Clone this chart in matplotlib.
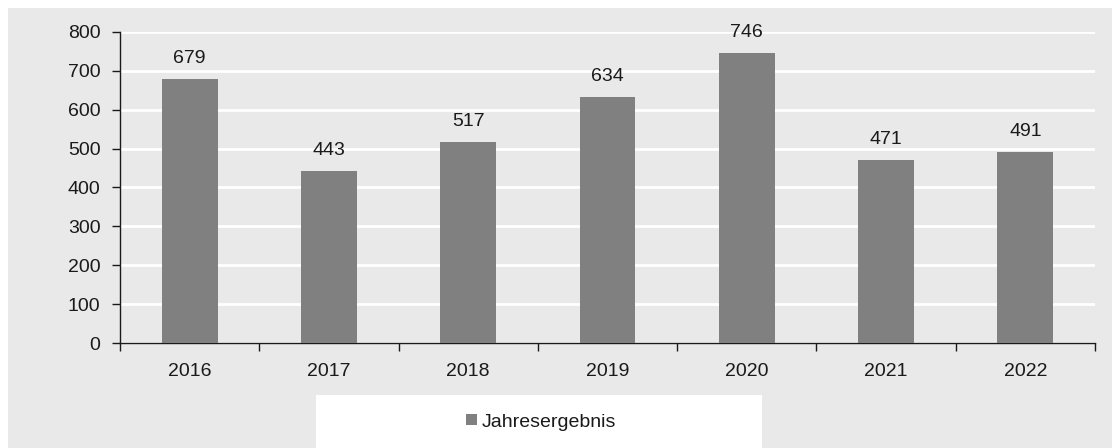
import matplotlib
matplotlib.use("Agg")
import matplotlib.pyplot as plt
from matplotlib.patches import Rectangle

years = ["2016", "2017", "2018", "2019", "2020", "2021", "2022"]
values = [679, 443, 517, 634, 746, 471, 491]
series_name = "Jahresergebnis"
yticks = [0, 100, 200, 300, 400, 500, 600, 700, 800]

plt.rcParams['font.family'] = ['Liberation Sans', 'DejaVu Sans']
W, H = 1112, 448
FS = 14
TXT = "#1a1a1a"
fig = plt.figure(figsize=(W/100, H/100), dpi=100, facecolor="white")
bg = "#e9e9e9"
fig.patches.append(Rectangle((8/W, 0), 1, (H-8)/H, transform=fig.transFigure,
                             facecolor=bg, edgecolor="none", zorder=-2))
# legend box
fig.patches.append(Rectangle((316/W, 0), (762-316)/W, (448-395)/H, transform=fig.transFigure,
                             facecolor="white", edgecolor="none", zorder=-1))

ax = fig.add_axes([120/W, (H-343)/H, (1095-120)/W, (343-32)/H])
ax.set_facecolor(bg)
x = list(range(len(years)))
bars = ax.bar(x, values, width=0.4, color="#808080", zorder=3, label=series_name)
ax.set_xlim(-0.5, len(years)-0.5)
ax.set_ylim(0, 800)
ax.set_yticks(yticks)
ax.set_yticklabels([str(v) for v in yticks])
ax.yaxis.grid(True, color="white", linewidth=2)
ax.set_axisbelow(True)
ax.set_xticks(x)
ax.set_xticklabels(years)
ax.tick_params(axis='x', length=0, pad=14.5, labelsize=FS, colors=TXT)
ax.set_xticks([i - 0.5 for i in range(len(years)+1)], minor=True)
ax.tick_params(axis='x', which='minor', length=6, width=1, color=TXT)
ax.tick_params(axis='y', length=6, width=1, pad=8, labelsize=FS, colors=TXT)
for s in ["top", "right"]:
    ax.spines[s].set_visible(False)
for s in ["left", "bottom"]:
    ax.spines[s].set_color(TXT)
    ax.spines[s].set_linewidth(1)

for xi, v in zip(x, values):
    ax.annotate(str(v), (xi, v), xytext=(0, 8.5), textcoords="offset points",
                ha="center", va="bottom", fontsize=FS, color=TXT)

fig.legend(handles=[bars], labels=[series_name], loc="center",
           bbox_to_anchor=(541/W, (448-422)/H), frameon=False, fontsize=FS,
           handlelength=0.55, handleheight=0.55, handletextpad=0.25,
           labelcolor=TXT)

fig.savefig("out.png", dpi=100, facecolor="white")
